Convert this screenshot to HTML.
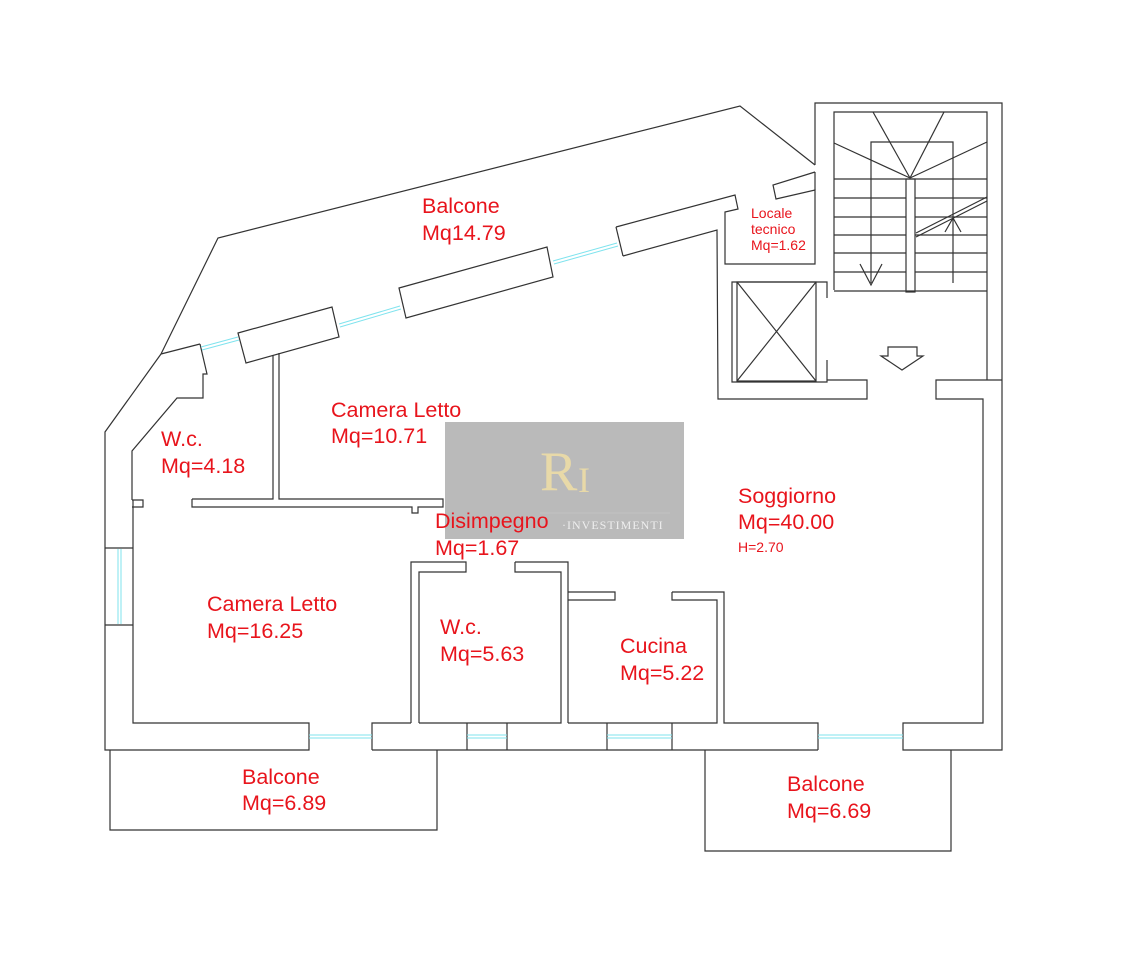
<!DOCTYPE html>
<html><head><meta charset="utf-8"><style>
html,body{margin:0;padding:0;background:#fff;}
svg{display:block;}
text{font-family:"Liberation Sans",sans-serif;fill:#e8141c;}
</style></head><body>
<svg width="1140" height="968" viewBox="0 0 1140 968" xmlns="http://www.w3.org/2000/svg">
<g fill="none" stroke="#333" stroke-width="1.2">
<polyline points="161,354 218,238 740,106 815,165"/>
<polyline points="161,354 105,432 105,750 309,750 309,723 133,723 133,500"/>
<polyline points="161,354 200,344"/>
<polyline points="200,344 207,374 203,374 203,398 177,398 132,451 132,500"/>
<polyline points="132,500 143,500 143,507 132,507"/>
<polygon points="238,333 332,307 339,337 246,363"/>
<polygon points="399,288 547,247 553,277 406,318"/>
<polyline points="616,227 735,195 738,209 725,212 725,264 815,264 815,190 776,199 773,185 815,172"/>
<polyline points="623,256 717,230 718,399 867,399 867,380 827,380"/>
<line x1="616" y1="227" x2="623" y2="256"/>
<polyline points="815,165 815,103 1002,103 1002,750 903,750 903,723 983,723 983,399 936,399 936,380 1002,380"/>
<polyline points="815,190 815,172"/>
<polyline points="834,290 834,112 987,112 987,380"/>
<polyline points="871,283 871,142 953,142 953,283"/>
<rect x="906" y="179" width="9" height="113"/>
<g>
<line x1="834" y1="179" x2="987" y2="179"/><line x1="834" y1="198" x2="906" y2="198"/><line x1="915" y1="198" x2="987" y2="198"/>
<line x1="834" y1="217" x2="906" y2="217"/><line x1="915" y1="217" x2="987" y2="217"/>
<line x1="834" y1="235" x2="906" y2="235"/><line x1="915" y1="235" x2="987" y2="235"/>
<line x1="834" y1="253" x2="906" y2="253"/><line x1="915" y1="253" x2="987" y2="253"/>
<line x1="834" y1="272" x2="906" y2="272"/><line x1="915" y1="272" x2="987" y2="272"/>
<line x1="834" y1="291" x2="987" y2="291"/>
<line x1="910" y1="178" x2="873" y2="112"/><line x1="910" y1="178" x2="944" y2="112"/>
<line x1="910" y1="178" x2="834" y2="143"/><line x1="910" y1="178" x2="987" y2="142"/>
<line x1="916" y1="233" x2="987" y2="197"/><line x1="916" y1="237" x2="987" y2="201"/>
<polyline points="860,264 871,285 882,264"/>
<polyline points="945,232 953,218 961,232"/>
</g>
<polyline points="827,298 827,282 732,282 732,382 827,382 827,360"/>
<rect x="737" y="282" width="79" height="99"/>
<line x1="737" y1="282" x2="816" y2="381"/><line x1="816" y1="282" x2="737" y2="381"/>
<polygon points="888,347 917,347 917,356 923,356 902,370 881,356 888,356"/>
<polyline points="192,499 273,499 273,355"/><polyline points="279,353 279,499 443,499 443,507 418,507 418,513 412,513 412,507 192,507 192,499"/>
<polyline points="411,723 411,562 419,562"/>
<polyline points="372,750 372,723 411,723"/>
<polyline points="419,723 419,572 466,572 466,562 419,562"/>
<polyline points="515,562 568,562 568,723"/>
<polyline points="515,562 515,572 561,572 561,723 419,723"/>
<polyline points="568,592 615,592 615,600 568,600"/>
<polyline points="672,592 724,592 724,723 818,723 818,750"/>
<polyline points="672,592 672,600 717,600 717,723 568,723"/>
<line x1="372" y1="750" x2="818" y2="750"/>
<line x1="467" y1="723" x2="467" y2="750"/><line x1="507" y1="723" x2="507" y2="750"/>
<line x1="607" y1="723" x2="607" y2="750"/><line x1="672" y1="723" x2="672" y2="750"/>
<line x1="105" y1="548" x2="133" y2="548"/><line x1="105" y1="625" x2="133" y2="625"/>
<polyline points="110,750 110,830 437,830 437,750"/>
<polyline points="705,750 705,851 951,851 951,750"/>
</g>
<g stroke="#7fe3ee" stroke-width="1">
<line x1="201" y1="347" x2="238" y2="337"/><line x1="202" y1="350" x2="239" y2="340"/>
<line x1="339" y1="324" x2="400" y2="306"/><line x1="340" y1="327" x2="401" y2="309"/>
<line x1="553" y1="261" x2="617" y2="243"/><line x1="554" y1="264" x2="618" y2="246"/>
<line x1="118" y1="549" x2="118" y2="624"/><line x1="121" y1="549" x2="121" y2="624"/>
<line x1="309" y1="735" x2="372" y2="735"/><line x1="309" y1="738" x2="372" y2="738"/>
<line x1="467" y1="735" x2="507" y2="735"/><line x1="467" y1="738" x2="507" y2="738"/>
<line x1="607" y1="735" x2="672" y2="735"/><line x1="607" y1="738" x2="672" y2="738"/>
<line x1="818" y1="735" x2="903" y2="735"/><line x1="818" y1="738" x2="903" y2="738"/>
</g>
<rect x="445" y="422" width="239" height="117" fill="#a9a9a9" fill-opacity="0.8"/>
<text x="540" y="490" style="font-family:'Liberation Serif',serif;font-size:56px;fill:#e8d9a8;">R</text>
<text x="578" y="492" style="font-family:'Liberation Serif',serif;font-size:36px;fill:#e8d9a8;">I</text>
<text x="562" y="529" style="font-family:'Liberation Serif',serif;font-size:12px;fill:#eee;letter-spacing:1px;">·INVESTIMENTI</text>
<line x1="540" y1="513" x2="670" y2="513" stroke="#ccc" stroke-width="0.6"/>
<g font-size="21.5">
<text x="422" y="213">Balcone</text><text x="422" y="240">Mq14.79</text>
<text x="331" y="417">Camera Letto</text><text x="331" y="443">Mq=10.71</text>
<text x="161" y="446">W.c.</text><text x="161" y="473">Mq=4.18</text>
<text x="435" y="528">Disimpegno</text><text x="435" y="555">Mq=1.67</text>
<text x="738" y="503">Soggiorno</text><text x="738" y="529">Mq=40.00</text>
<text x="207" y="611">Camera Letto</text><text x="207" y="638">Mq=16.25</text>
<text x="440" y="634">W.c.</text><text x="440" y="661">Mq=5.63</text>
<text x="620" y="653">Cucina</text><text x="620" y="680">Mq=5.22</text>
<text x="242" y="784">Balcone</text><text x="242" y="810">Mq=6.89</text>
<text x="787" y="791">Balcone</text><text x="787" y="818">Mq=6.69</text>
</g>
<g font-size="14">
<text x="751" y="218">Locale</text><text x="751" y="234">tecnico</text><text x="751" y="250">Mq=1.62</text>
<text x="738" y="552">H=2.70</text>
</g>
</svg>
</body></html>
